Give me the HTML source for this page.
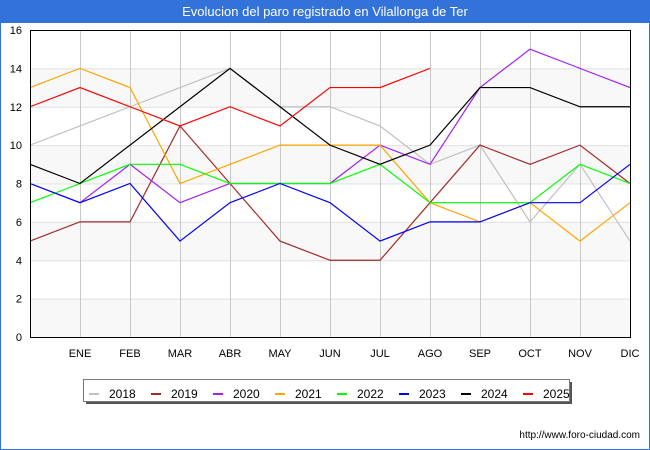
<!DOCTYPE html>
<html><head><meta charset="utf-8"><style>
body{margin:0;background:#fff;}
#wrap{position:relative;width:650px;height:450px;box-sizing:border-box;border:1px solid #3373d9;font-family:"Liberation Sans","DejaVu Sans",sans-serif;}
#title{position:absolute;left:0;top:0;width:648px;height:22px;background:#3373d9;color:#fff;font-size:13px;line-height:22px;text-align:center;}
</style></head><body>
<div id="wrap">
<div id="title">Evolucion del paro registrado en Vilallonga de Ter</div>
<svg id="chart" width="648" height="448" style="position:absolute;left:0;top:0"></svg>
</div>
<script>
const months=["","ENE","FEB","MAR","ABR","MAY","JUN","JUL","AGO","SEP","OCT","NOV","DIC"];
const yTicks=[0,2,4,6,8,10,12,14,16];
const years=["2018","2019","2020","2021","2022","2023","2024","2025"];
const colors=["#c0c0c0","#a52a2a","#a020f0","#ffa500","#00ff00","#0000ff","#000000","#ff0000"];
const s2018=[10,11,12,13,14,12,12,11,9,10,6,9,5];
const s2019=[5,6,6,11,8,5,4,4,7,10,9,10,8];
const s2020=[8,7,9,7,8,8,8,10,9,13,15,14,13];
const s2021=[13,14,13,8,9,10,10,10,7,6,7,5,7];
const s2022=[7,8,9,9,8,8,8,9,7,7,7,9,8];
const s2023=[8,7,8,5,7,8,7,5,6,6,7,7,9];
const s2024=[9,8,10,12,14,12,10,9,10,13,13,12,12];
const s2025=[12,13,12,11,12,11,13,13,14];
const series=[s2018,s2019,s2020,s2021,s2022,s2023,s2024,s2025];

const NS="http://www.w3.org/2000/svg";
const svg=document.getElementById("chart");
const L=29,R=629,T=29,B=336;
const x=i=>L+i*(R-L)/(months.length-1);
const y=v=>B-(v/16)*(B-T);
function el(t,a){const e=document.createElementNS(NS,t);for(const k in a)e.setAttribute(k,a[k]);svg.appendChild(e);return e;}
// bands
for(let i=0;i<yTicks.length-1;i++){
  if(i%2===0){const r=el("rect",{x:L,y:y(yTicks[i+1]),width:R-L,height:y(yTicks[i])-y(yTicks[i+1]),fill:"#f8f8f8"});
  
  }
}
yTicks.forEach(v=>{
  const g=el("line",{x1:L,x2:R,y1:y(v)+0.5,y2:y(v)+0.5,stroke:"#e0e0e0","stroke-width":1});
  
  
  const t=el("text",{x:L-8,y:y(v)+4,"text-anchor":"end","font-size":"11",fill:"#000"});
  t.textContent=v;
  
  
});
months.forEach((m,i)=>{
  if(i>0){const g=el("line",{x1:x(i)+0.5,x2:x(i)+0.5,y1:T,y2:B,stroke:"#c8c8c8","stroke-width":1});
  
  
  const t=el("text",{x:x(i),y:356,"text-anchor":"middle","font-size":"11",fill:"#000"});
  t.textContent=m;
  
  }
});
series.forEach((s,k)=>{
  const p=el("polyline",{points:s.map((v,i)=>x(i)+","+y(v)).join(" "),fill:"none",stroke:colors[k],"stroke-width":1.2});
  
  
});
const fr=el("rect",{x:L+0.5,y:T+0.5,width:R-L,height:B-T,fill:"none",stroke:"#000","stroke-width":1});


// legend
const sh=el("rect",{x:85,y:381,width:486,height:22,fill:"#555"});


const lb=el("rect",{x:82.5,y:378.5,width:486,height:22,fill:"#fff",stroke:"#777","stroke-width":1});


years.forEach((yr,k)=>{
  const lx=88+k*62;
  const ln=el("line",{x1:lx,x2:lx+10,y1:393,y2:393,stroke:colors[k],"stroke-width":2});
  
  
  const t=el("text",{x:lx+20,y:397,"font-size":"12",fill:"#000"});
  t.textContent=yr;
  
  
});
const u=el("text",{x:639,y:437,"text-anchor":"end","font-size":"10",fill:"#000"});
u.textContent="http://www.foro-ciudad.com";


</script>
</body></html>
